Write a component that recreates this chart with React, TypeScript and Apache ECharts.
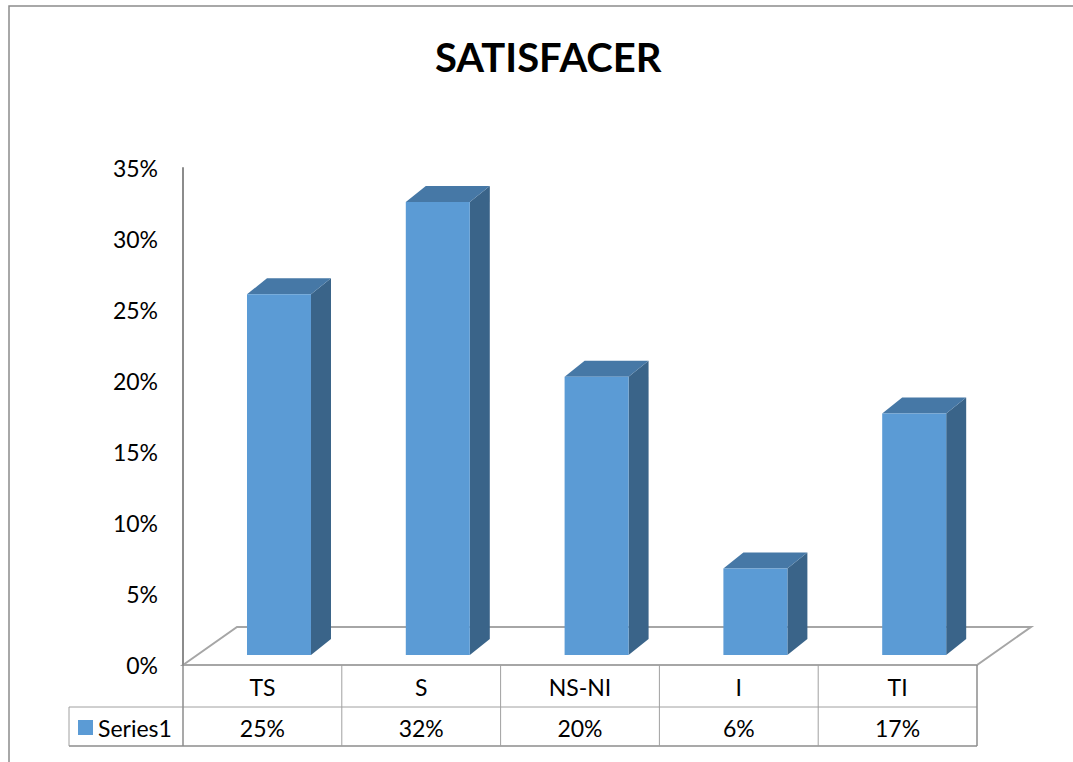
import React, { useEffect, useRef } from "react";
import * as echarts from "echarts";

const title = "SATISFACER";
const categories = ["TS", "S", "NS-NI", "I", "TI"];
const values = [25.4, 31.9, 19.6, 6.1, 17.0];
const seriesName = "Series1";
const yMin = 0;
const yMax = 35;
const yInterval = 5;

const FONT = "Lato, 'Open Sans', sans-serif";
const GRID = { left: 183, top: 168, width: 794, height: 497 };
const FRONT = "#5b9bd5";
const SIDE = "#3a6489";
const TOPC = "#4678a6";
const LINE = "#a0a0a0";
const FS = 23;

export default function App() {
  const ref = useRef<HTMLDivElement>(null);
  useEffect(() => {
    if (!ref.current) return;
    const chart = echarts.init(ref.current, undefined, { renderer: "svg" });
    const gl = GRID.left;
    const gb = GRID.top + GRID.height;
    const gr = gl + GRID.width;
    const colW = GRID.width / categories.length;
    const r1 = gb;
    const r2 = gb + 42;
    const r3 = gb + 81;
    const graphics: any[] = [];
    graphics.push({
      type: "rect",
      shape: { x: 9, y: 6, width: 1100, height: 800 },
      style: { fill: "none", stroke: "#8c8c8c", lineWidth: 1.5 },
      z: 0,
    });
    graphics.push({
      type: "polygon",
      shape: { points: [[gl, gb], [gl + 54, gb - 38], [gr + 54, gb - 38], [gr, gb]] },
      style: { fill: "none", stroke: "#a6a6a6", lineWidth: 2 },
      z: 0,
    });
    graphics.push({ type: "line", shape: { x1: gl, y1: r2, x2: gr, y2: r2 }, style: { stroke: LINE, lineWidth: 1 }, z: 1 });
    graphics.push({ type: "line", shape: { x1: 69, y1: r3, x2: gr, y2: r3 }, style: { stroke: "#8c8c8c", lineWidth: 1.5 }, z: 1 });
    graphics.push({ type: "line", shape: { x1: 69, y1: r2, x2: gl, y2: r2 }, style: { stroke: LINE, lineWidth: 1 }, z: 1 });
    graphics.push({ type: "line", shape: { x1: 69, y1: r2, x2: 69, y2: r3 }, style: { stroke: LINE, lineWidth: 1 }, z: 1 });
    for (let i = 0; i <= categories.length; i++) {
      const x = gl + colW * i;
      const edge = i === 0 || i === categories.length;
      graphics.push({
        type: "line",
        shape: { x1: x, y1: r1, x2: x, y2: r3 },
        style: { stroke: edge ? "#8c8c8c" : LINE, lineWidth: edge ? 1.5 : 1 },
        z: 1,
      });
    }
    categories.forEach((c, i) => {
      const cx = gl + colW * (i + 0.5);
      graphics.push({
        type: "text",
        style: { text: c, x: cx, y: (r1 + r2) / 2 + 1, align: "center", verticalAlign: "middle", font: `${FS}px ${FONT}`, fill: "#000" },
        z: 2,
      });
      graphics.push({
        type: "text",
        style: { text: `${Math.round(values[i])}%`, x: cx, y: (r2 + r3) / 2 + 1, align: "center", verticalAlign: "middle", font: `${FS}px ${FONT}`, fill: "#000" },
        z: 2,
      });
    });
    graphics.push({ type: "rect", shape: { x: 78, y: 720, width: 15, height: 15 }, style: { fill: FRONT }, z: 2 });
    graphics.push({
      type: "text",
      style: { text: seriesName, x: 98, y: (r2 + r3) / 2 + 1, align: "left", verticalAlign: "middle", font: `${FS}px ${FONT}`, fill: "#000" },
      z: 2,
    });

    chart.setOption({
      animation: false,
      backgroundColor: "#ffffff",
      title: {
        text: title,
        left: 430,
        top: 32,
        textStyle: { fontFamily: FONT, fontWeight: "bold", fontSize: 40, color: "#000" },
      },
      grid: { left: GRID.left, top: GRID.top, width: GRID.width, height: GRID.height },
      xAxis: {
        type: "category",
        data: categories,
        axisLine: { show: false },
        axisTick: { show: false },
        axisLabel: { show: false },
        splitLine: { show: false },
      },
      yAxis: {
        type: "value",
        min: yMin,
        max: yMax,
        interval: yInterval,
        axisLine: { show: true, lineStyle: { color: "#8c8c8c", width: 2 } },
        axisTick: { show: false },
        splitLine: { show: false },
        axisLabel: {
          formatter: (v: number) => `${v}%`,
          fontFamily: FONT,
          fontSize: FS,
          color: "#000",
          margin: 25,
        },
      },
      graphic: graphics,
      series: [
        {
          type: "custom",
          name: seriesName,
          z: 5,
          data: values.map((v, i) => [i, v]),
          encode: { x: 0, y: 1 },
          renderItem: (params: any, api: any) => {
            const i = api.value(0);
            const v = api.value(1);
            const c = api.coord([i, v]);
            const b = api.coord([i, 0]);
            const band = api.size([1, 0])[0];
            const w = band * 0.403;
            const left = c[0] - band * 0.097;
            const lift = 10;
            const dx = 20;
            const dy = -16;
            const top = c[1] - lift;
            const bot = b[1] - lift;
            return {
              type: "group",
              children: [
                {
                  type: "polygon",
                  shape: { points: [[left + w, top], [left + w + dx, top + dy], [left + w + dx, bot + dy], [left + w, bot]] },
                  style: { fill: SIDE },
                },
                {
                  type: "polygon",
                  shape: { points: [[left, top], [left + dx, top + dy], [left + w + dx, top + dy], [left + w, top]] },
                  style: { fill: TOPC },
                },
                {
                  type: "rect",
                  shape: { x: left, y: top, width: w, height: bot - top },
                  style: { fill: FRONT },
                },
              ],
            };
          },
        },
      ],
    });
    return () => chart.dispose();
  }, []);
  return <div ref={ref} style={{ position: "fixed", left: 0, top: 0, width: 1073, height: 762 }} />;
}
